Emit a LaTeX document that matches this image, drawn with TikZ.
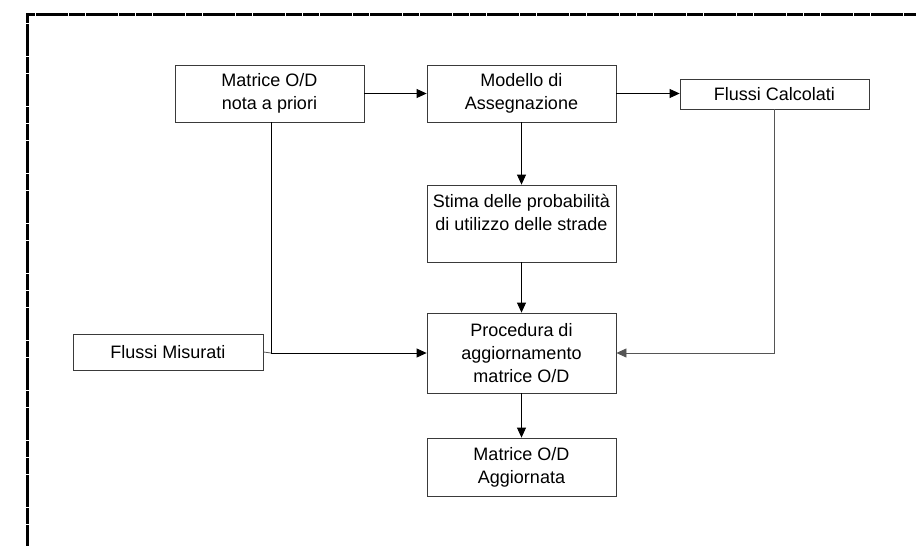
\documentclass[tikz,border=0pt]{standalone}
\usepackage{fontspec}
\setmainfont{Liberation Sans}
\usepackage{tikz}
\usetikzlibrary{arrows.meta}
\definecolor{boxGray}{HTML}{3A3A3A}
\definecolor{lineGray}{HTML}{555555}

\tikzset{
    stepbox/.style={draw=boxGray, line width=0.8pt, align=center, inner sep=0pt,
        minimum width=189pt, font=\fontsize{18}{23}\selectfont},
    flow/.style={-{Triangle[length=10pt,width=9pt]}, line width=0.8pt, black},
    feed/.style={line width=0.8pt, lineGray}
}

\begin{document}
\begin{tikzpicture}[x=1pt, y=-1pt]
        \useasboundingbox (0,0) rectangle (916,546);
        \begin{scope}
            \clip (0,0) rectangle (916,546);
            \draw[line width=2.6pt, dash pattern=on 16pt off 0.7pt]
                (920,14.5) -- (27.3,14.5) -- (27.3,550);
        \end{scope}

        % boxes
        \node[stepbox, minimum height=57pt] (prior) at (269.5,93.5) {Matrice O/D\\nota a priori};
        \node[stepbox, minimum height=57pt] (model) at (521.5,93.5) {Modello di\\Assegnazione};
        \node[stepbox, minimum height=30pt] (calc) at (774.5,94) {Flussi Calcolati};
        \node[stepbox, minimum height=77pt] (stima) at (521.5,223.5)
            {Stima delle probabilità\\di utilizzo delle strade\\\mbox{}};
        \node[stepbox, minimum height=80pt] (proc) at (521.5,353)
            {Procedura di\\aggiornamento\\matrice O/D};
        \node[stepbox, minimum width=190pt, minimum height=36pt] (misur) at (168,352) {Flussi Misurati};
        \node[stepbox, minimum height=58pt] (final) at (521.5,467) {Matrice O/D\\Aggiornata};

        % connectors
        \draw[flow] (prior.east) -- (model.west);
        \draw[flow] (model.east) -- (model.east -| calc.west);
        \draw[flow] (model) -- (stima);
        \draw[flow] (stima) -- (proc);
        \draw[flow] (proc) -- (final);
        \draw[flow] ([xshift=1.5pt]prior.south) |- (proc.west);
        \draw[feed] (misur.east) -- ([xshift=1.5pt]prior.south |- proc.west);
        \draw[flow, lineGray] (calc.south) |- (proc.east);
    \end{tikzpicture}
\end{document}
